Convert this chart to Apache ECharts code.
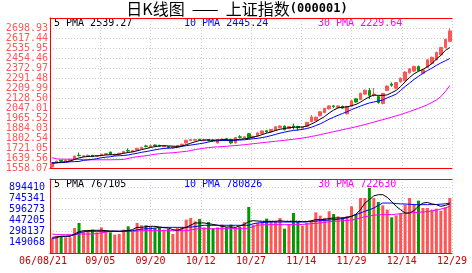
<!DOCTYPE html>
<html><head><meta charset="utf-8">
<script src="https://cdn.jsdelivr.net/npm/echarts@6/dist/echarts.min.js"></script>
<style>html,body{margin:0;padding:0;background:#fff}#c{width:472px;height:273px}</style>
</head><body><div id="c"></div>
<script>
const dates = ['08/21','08/22','08/23','08/24','08/25','08/28','08/29','08/30','08/31',
'09/01','09/04','09/05','09/06','09/07','09/08','09/11','09/12','09/13','09/14','09/15','09/18','09/19','09/20','09/21','09/22','09/25','09/26','09/27','09/28','09/29',
'10/09','10/10','10/11','10/12','10/13','10/16','10/17','10/18','10/19','10/20','10/23','10/24','10/25','10/26','10/27','10/30','10/31',
'11/01','11/02','11/03','11/06','11/07','11/08','11/09','11/10','11/13','11/14','11/15','11/16','11/17','11/20','11/21','11/22','11/23','11/24','11/27','11/28','11/29','11/30',
'12/01','12/04','12/05','12/06','12/07','12/08','12/11','12/12','12/13','12/14','12/15','12/18','12/19','12/20','12/21','12/22','12/25','12/26','12/27','12/28','12/29'];

const opens  = [1566,1604,1620,1614,1619,1630,1662,1652,1656,1662,1654,1660,1668,1688,1664,1670,1680,1700,1690,1704,1716,1738,1732,1746,1742,1732,1732,1722,1730,1742,1762,1782,1784,1792,1782,1790,1786,1762,1788,1796,1792,1762,1812,1804,1838,1806,1820,1838,1862,1852,1864,1888,1900,1880,1900,1896,1882,1898,1936,1944,1984,2010,2040,2064,2052,2060,2000,2062,2122,2116,2160,2190,2152,2140,2084,2190,2242,2208,2260,2270,2334,2348,2386,2330,2378,2410,2440,2480,2540,2590];
const closes = [1603,1614,1614,1621,1625,1655,1658,1658,1661,1651,1660,1670,1676,1668,1670,1678,1692,1696,1700,1718,1727,1734,1740,1740,1736,1738,1722,1730,1742,1752,1784,1788,1790,1786,1788,1781,1780,1790,1794,1792,1762,1806,1808,1812,1804,1816,1844,1860,1852,1872,1894,1900,1870,1896,1892,1888,1890,1930,1974,1972,2016,2044,2064,2058,2064,2046,2060,2106,2096,2166,2192,2150,2160,2092,2166,2226,2232,2254,2290,2340,2366,2386,2352,2358,2440,2460,2500,2540,2605,2675];
const lows   = [1558,1600,1608,1610,1615,1626,1652,1648,1650,1646,1650,1655,1664,1664,1660,1666,1676,1686,1686,1700,1712,1726,1728,1736,1730,1728,1716,1716,1726,1738,1758,1776,1780,1780,1776,1774,1772,1758,1782,1780,1752,1758,1800,1798,1800,1800,1816,1834,1846,1848,1860,1882,1864,1876,1870,1860,1872,1894,1930,1936,1978,2004,2034,2048,2046,2040,1994,2058,2090,2110,2156,2120,2140,2082,2076,2184,2220,2200,2254,2264,2326,2340,2346,2322,2372,2404,2434,2472,2532,2584];
const highs  = [1606,1618,1624,1626,1628,1658,1684,1662,1668,1664,1664,1673,1679,1690,1674,1682,1695,1718,1704,1722,1729,1748,1748,1750,1748,1742,1736,1734,1746,1756,1787,1796,1794,1796,1792,1794,1790,1794,1798,1804,1796,1810,1826,1816,1842,1820,1848,1864,1868,1876,1898,1906,1904,1900,1920,1902,1896,1934,1990,1978,2020,2048,2070,2072,2068,2066,2064,2110,2126,2172,2198,2210,2210,2146,2170,2230,2256,2258,2296,2344,2372,2392,2392,2362,2446,2466,2506,2546,2612,2698];

const ma5  = [1596,1600,1606,1609,1614,1628,1640,1648,1652,1654,1657,1660,1664,1666,1666,1670,1678,1684,1690,1698,1708,1716,1726,1732,1738,1740,1738,1736,1734,1737,1748,1760,1772,1782,1786,1786,1784,1786,1788,1790,1784,1788,1792,1796,1800,1810,1818,1830,1842,1852,1864,1874,1880,1886,1890,1892,1892,1900,1916,1934,1956,1978,2006,2030,2048,2054,2056,2066,2076,2094,2118,2138,2152,2150,2150,2154,2172,2190,2222,2260,2296,2326,2346,2362,2384,2408,2446,2476,2516,2540];
const ma10 = [1601,1601,1602,1603,1609,1610,1612,1620,1624,1628,1634,1642,1646,1650,1656,1658,1660,1664,1672,1678,1686,1692,1699,1706,1712,1718,1720,1722,1726,1734,1740,1745,1750,1756,1762,1770,1778,1780,1782,1782,1782,1784,1786,1788,1792,1796,1800,1806,1813,1822,1832,1842,1850,1858,1864,1868,1872,1880,1890,1904,1918,1936,1956,1972,1988,2002,2016,2034,2048,2062,2076,2088,2096,2104,2112,2130,2144,2160,2190,2222,2250,2280,2305,2330,2352,2372,2394,2414,2432,2450];
const ma30 = [1642,1632,1630,1630,1630,1630,1628,1626,1625,1625,1625,1625,1625,1625,1626,1626,1628,1636,1644,1650,1654,1658,1664,1670,1674,1678,1680,1682,1686,1690,1694,1700,1708,1714,1720,1724,1728,1730,1732,1735,1738,1741,1744,1748,1752,1756,1760,1764,1768,1772,1776,1780,1784,1788,1792,1797,1802,1808,1815,1822,1830,1838,1846,1854,1862,1870,1878,1886,1894,1903,1912,1922,1932,1942,1952,1962,1972,1983,1994,2006,2018,2031,2044,2058,2074,2092,2112,2140,2180,2230];

const volumes = [205000,228000,228000,214000,214000,341000,410000,296000,309000,319000,
282000,350000,305000,282000,250000,259000,319000,364000,296000,410000,
378000,378000,364000,341000,350000,319000,332000,259000,341000,350000,
455000,478000,432000,464000,350000,423000,332000,350000,387000,350000,
387000,350000,359000,423000,628000,387000,410000,418000,469000,432000,
432000,478000,332000,396000,546000,423000,373000,410000,441000,555000,
510000,478000,569000,532000,500000,487000,500000,637000,523000,751000,
751000,887000,751000,696000,650000,591000,487000,514000,546000,660000,
751000,669000,714000,614000,614000,591000,605000,578000,623000,751000];
const vma5 = [214000,220000,228000,228000,228000,259000,290000,305000,305000,310000,
310000,310000,305000,300000,300000,296000,300000,305000,320000,350000,
350000,360000,364000,364000,355000,345000,341000,319000,310000,330000,
350000,380000,410000,410000,410000,400000,390000,380000,364000,355000,
355000,350000,370000,390000,430000,441000,436000,432000,432000,432000,
432000,440000,432000,432000,432000,432000,428000,428000,440000,455000,
455000,460000,470000,478000,478000,478000,490000,500000,530000,591000,
680000,728000,780000,796000,796000,760000,700000,637000,590000,546000,
546000,580000,640000,682000,690000,670000,660000,637000,650000,669000];
const vma10 = [196000,210000,228000,228000,235000,250000,273000,290000,296000,296000,
296000,296000,296000,296000,296000,296000,300000,300000,305000,315000,
325000,332000,332000,340000,350000,350000,350000,350000,350000,350000,
350000,355000,360000,370000,378000,378000,378000,378000,378000,378000,
378000,378000,378000,378000,378000,400000,410000,415000,420000,423000,
423000,423000,423000,423000,423000,423000,423000,425000,430000,435000,
440000,445000,450000,455000,460000,470000,480000,500000,523000,546000,
570000,590000,614000,650000,682000,682000,682000,675000,670000,669000,
665000,660000,660000,660000,660000,660000,662000,666000,672000,682000];
const vma30 = [259000,252000,250000,250000,250000,250000,259000,259000,259000,259000,
265000,275000,285000,296000,296000,296000,296000,296000,296000,300000,
305000,305000,305000,305000,305000,305000,305000,305000,305000,305000,
305000,315000,325000,332000,332000,332000,332000,332000,332000,332000,
332000,332000,332000,332000,340000,360000,380000,385000,387000,387000,
387000,387000,387000,387000,387000,387000,390000,395000,400000,405000,
410000,420000,425000,430000,435000,440000,445000,450000,465000,480000,
495000,505000,515000,520000,523000,523000,525000,530000,535000,540000,
546000,550000,555000,560000,565000,575000,585000,600000,615000,637000];

const priceTicks = ['1558.07','1639.56','1721.05','1802.54','1884.03','1965.52','2047.01','2128.50','2209.99','2291.48','2372.97','2454.46','2535.95','2617.44','2698.93'];
const volTicks = ['149068','298137','447205','596273','745341','894410'];
const xTickLabels = ['06/08/21','09/05','09/20','10/12','10/27','11/14','11/29','12/14','12/29'];
const pmaLegend = ['5 PMA 2539.27','10 PMA 2445.24','30 PMA 2229.64'];
const vmaLegend = ['5 PMA 767105','10 PMA 780826','30 PMA 722630'];
const titleMain = '日K线图  ——  上证指数';
const titleCode = '(000001)';

const RED = '#ff5555', GREEN = '#009900', BORDER = '#ff0000', GRID = '#cccccc';
const MONO = 'DejaVu Sans Mono';
const pMin = 1558.07, pStep = 81.49, pMax = pMin + pStep * 15;
const vStep = 894410 / 6, vMax = 1010000;

const candleData = opens.map((o, i) => [o, closes[i], lows[i], highs[i]]);
const volData = volumes.map((v, i) => ({value: v, itemStyle: {color: closes[i] >= opens[i] ? RED : GREEN}}));

const G0 = {left: 50, top: 18, width: 402, height: 150};
const G1 = {left: 50, top: 179, width: 402, height: 74};

const dotted = {show: true, lineStyle: {color: GRID, width: 1, type: [1, 2]}};
function valX(grid, pos, opts) {
  return Object.assign({type: 'value', gridIndex: grid, position: pos, min: 0, max: 8, interval: 1,
    axisLine: {show: true, onZero: false, lineStyle: {color: BORDER, width: 1}},
    axisTick: {show: false}, axisLabel: {show: false}, splitLine: {show: false}}, opts || {});
}

const option = {
  animation: false,
  backgroundColor: '#fff',
  title: [{
    text: '{a|' + titleMain + '}{b|' + titleCode + '}', left: 237, top: 1, textAlign: 'center', padding: 0,
    textStyle: {rich: {
      a: {fontFamily: 'Noto Sans CJK SC', fontSize: 16, lineHeight: 16, color: '#000', fontWeight: 'normal'},
      b: {fontFamily: MONO, fontSize: 12, lineHeight: 16, fontWeight: 'bold', color: '#000'}
    }}
  }],
  graphic: [
    {type: 'text', left: 54, top: 18, style: {text: pmaLegend[0], fill: '#000', font: '10px ' + MONO}},
    {type: 'text', left: 184, top: 18, style: {text: pmaLegend[1], fill: '#0000ff', font: '10px ' + MONO}},
    {type: 'text', left: 318, top: 18, style: {text: pmaLegend[2], fill: '#ff00ff', font: '10px ' + MONO}},
    {type: 'text', left: 54, top: 179, style: {text: vmaLegend[0], fill: '#000', font: '10px ' + MONO}},
    {type: 'text', left: 184, top: 179, style: {text: vmaLegend[1], fill: '#0000ff', font: '10px ' + MONO}},
    {type: 'text', left: 318, top: 179, style: {text: vmaLegend[2], fill: '#ff00ff', font: '10px ' + MONO}}
  ],
  grid: [G0, G1],
  xAxis: [
    {type: 'category', gridIndex: 0, data: dates, boundaryGap: true, show: false},
    {type: 'category', gridIndex: 1, data: dates, boundaryGap: true, show: false},
    valX(0, 'bottom', {splitLine: dotted}),
    valX(0, 'top'),
    valX(1, 'bottom', {splitLine: dotted, axisLabel: {show: true, margin: 3, color: '#cc0000', fontFamily: MONO, fontSize: 10,
      formatter: v => { const s = xTickLabels[Math.round(v)]; return Math.round(v) === 0 ? '{f|' + s + '}' : s; },
      rich: {f: {fontFamily: MONO, fontSize: 10, color: '#cc0000', padding: [0, 14, 0, 0]}}}}),
    valX(1, 'top')
  ],
  yAxis: [
    {type: 'value', gridIndex: 0, min: pMin, max: pMax, interval: pStep, position: 'left',
      axisLine: {show: true, lineStyle: {color: BORDER, width: 1, type: [1, 1]}}, axisTick: {show: false},
      splitLine: dotted,
      axisLabel: {margin: 2, color: RED, fontFamily: MONO, fontSize: 10,
        formatter: v => { const k = Math.round((v - pMin) / pStep); return k >= 0 && k < priceTicks.length ? priceTicks[k] : ''; }}},
    {type: 'value', gridIndex: 0, min: pMin, max: pMax, position: 'right',
      axisLine: {show: true, lineStyle: {color: BORDER, width: 1}}, axisTick: {show: false}, axisLabel: {show: false}, splitLine: {show: false}},
    {type: 'value', gridIndex: 1, min: 0, max: vMax, interval: vStep, position: 'left',
      axisLine: {show: true, lineStyle: {color: BORDER, width: 1, type: [1, 1]}}, axisTick: {show: false},
      splitLine: dotted,
      axisLabel: {margin: 5, color: '#0000ee', fontFamily: MONO, fontSize: 10,
        formatter: v => { const k = Math.round(v / vStep); return k >= 1 && k <= volTicks.length ? volTicks[k - 1] : ''; }}},
    {type: 'value', gridIndex: 1, min: 0, max: vMax, position: 'right',
      axisLine: {show: true, lineStyle: {color: BORDER, width: 1}}, axisTick: {show: false}, axisLabel: {show: false}, splitLine: {show: false}}
  ],
  series: [
    {type: 'candlestick', xAxisIndex: 0, yAxisIndex: 0, data: candleData, barWidth: 3,
      itemStyle: {color: RED, color0: GREEN, borderColor: RED, borderColor0: GREEN, borderWidth: 1}},
    {type: 'line', xAxisIndex: 0, yAxisIndex: 0, data: ma30, symbol: 'none', lineStyle: {color: '#ff00ff', width: 1}},
    {type: 'line', xAxisIndex: 0, yAxisIndex: 0, data: ma10, symbol: 'none', lineStyle: {color: '#0000ff', width: 1}},
    {type: 'line', xAxisIndex: 0, yAxisIndex: 0, data: ma5, symbol: 'none', lineStyle: {color: '#000000', width: 1}},
    {type: 'bar', xAxisIndex: 1, yAxisIndex: 2, data: volData, barWidth: 3},
    {type: 'line', xAxisIndex: 1, yAxisIndex: 2, data: vma30, symbol: 'none', lineStyle: {color: '#ff00ff', width: 1}},
    {type: 'line', xAxisIndex: 1, yAxisIndex: 2, data: vma10, symbol: 'none', lineStyle: {color: '#0000ff', width: 1}},
    {type: 'line', xAxisIndex: 1, yAxisIndex: 2, data: vma5, symbol: 'none', lineStyle: {color: '#000000', width: 1}}
  ]
};
const chart = echarts.init(document.getElementById('c'), null, {renderer: 'canvas'});
chart.setOption(option);
</script></body></html>
